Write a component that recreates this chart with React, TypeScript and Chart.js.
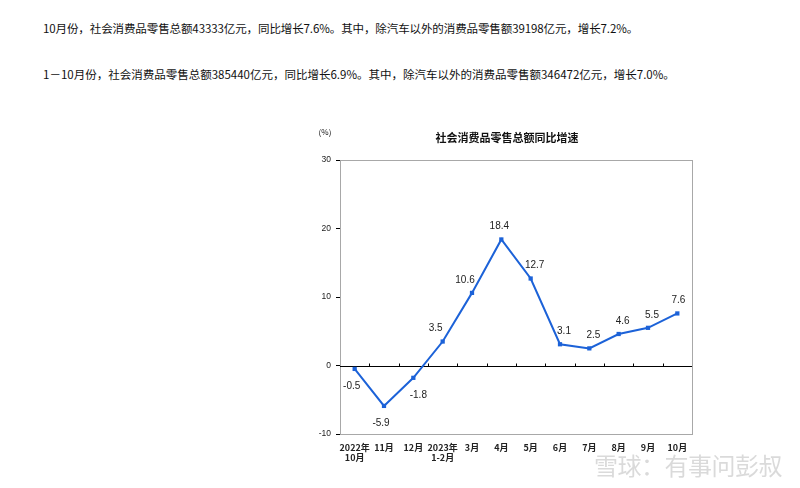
import React, { useEffect, useRef } from "react";
import { Chart, registerables } from "chart.js";
Chart.register(...registerables);

const paragraph1 = "10月份，社会消费品零售总额43333亿元，同比增长7.6%。其中，除汽车以外的消费品零售额39198亿元，增长7.2%。";
const paragraph2 = "1－10月份，社会消费品零售总额385440亿元，同比增长6.9%。其中，除汽车以外的消费品零售额346472亿元，增长7.0%。";
const chartTitle = "社会消费品零售总额同比增速";
const unitLabel = "(%)";
const watermark = "雪球：有事问彭叔";
const categories: string[][] = [
  ["2022年", "10月"],
  ["11月"],
  ["12月"],
  ["2023年", "1-2月"],
  ["3月"],
  ["4月"],
  ["5月"],
  ["6月"],
  ["7月"],
  ["8月"],
  ["9月"],
  ["10月"],
];
const growth = [-0.5, -5.9, -1.8, 3.5, 10.6, 18.4, 12.7, 3.1, 2.5, 4.6, 5.5, 7.6];
const yMin = -10;
const yMax = 30;
const yStep = 10;

const LINE = "#1c62d8";
const CJK = '"Noto Sans CJK SC", "Liberation Sans", sans-serif';
const NUM = '"Liberation Sans", Arial, sans-serif';

const framePlugin = {
  id: "frame",
  beforeDatasetsDraw(chart: any) {
    const { ctx, chartArea: a, scales } = chart;
    ctx.save();
    ctx.strokeStyle = "#a8a8a8";
    ctx.lineWidth = 1;
    ctx.strokeRect(a.left + 0.5, a.top + 0.5, a.right - a.left, a.bottom - a.top);
    const y0 = Math.round(scales.y.getPixelForValue(0)) + 0.5;
    ctx.strokeStyle = "#000";
    ctx.beginPath();
    ctx.moveTo(a.left, y0);
    ctx.lineTo(a.right, y0);
    const xs = scales.x;
    for (let i = 0; i < categories.length - 1; i++) {
      const bx = Math.round((xs.getPixelForValue(i) + xs.getPixelForValue(i + 1)) / 2) + 0.5;
      ctx.moveTo(bx, y0);
      ctx.lineTo(bx, y0 - 3);
    }
    ctx.stroke();
    ctx.restore();
  },
  afterDraw(chart: any) {
    const { ctx, chartArea: a } = chart;
    ctx.save();
    ctx.fillStyle = "#111";
    ctx.textAlign = "center";
    ctx.textBaseline = "middle";
    ctx.font = `bold 11px ${CJK}`;
    ctx.fillText(chartTitle, (a.left + a.right) / 2 - 9, a.top - 22);
    ctx.font = `8px ${CJK}`;
    ctx.fillText(unitLabel, a.left - 15, a.top - 28);
    ctx.restore();
  },
};

const labelPlugin = {
  id: "valueLabels",
  afterDatasetsDraw(chart: any) {
    const { ctx } = chart;
    const meta = chart.getDatasetMeta(0);
    ctx.save();
    ctx.fillStyle = "#222";
    ctx.font = `10px ${NUM}`;
    ctx.textAlign = "center";
    ctx.textBaseline = "middle";
    meta.data.forEach((pt: any, i: number) => {
      const v = growth[i];
      const prev = i > 0 ? growth[i - 1] : v;
      const next = i < growth.length - 1 ? growth[i + 1] : v;
      const slope = (next - prev) / 2;
      const isPeak = v > prev && v > next;
      let dx: number;
      let y: number;
      if (v >= 0) {
        y = pt.y - 13;
        dx = slope > 3 ? -7 : isPeak ? -2 : 4;
        if (i === growth.length - 1) dx = 1;
      } else {
        y = pt.y + 17;
        dx = slope > 3 ? 5 : -3;
      }
      ctx.fillText(v.toFixed(1), pt.x + dx, y);
    });
    ctx.restore();
  },
};

function LineChart() {
  const ref = useRef<HTMLCanvasElement | null>(null);
  useEffect(() => {
    if (!ref.current) return;
    const chart = new Chart(ref.current, {
      type: "line",
      data: {
        labels: categories as any,
        datasets: [
          {
            data: growth,
            borderColor: LINE,
            backgroundColor: LINE,
            borderWidth: 2,
            pointStyle: "rect",
            pointRadius: 3,
            pointBorderWidth: 0,
            tension: 0,
          },
        ],
      },
      options: {
        responsive: false,
        animation: false,
        events: [],
        layout: { padding: { left: 300, right: 108, top: 160, bottom: 24 } },
        plugins: { legend: { display: false }, tooltip: { enabled: false }, title: { display: false } },
        scales: {
          x: {
            offset: true,
            grid: { display: false, drawTicks: false },
            border: { display: false },
            ticks: {
              autoSkip: false,
              maxRotation: 0,
              padding: 8,
              color: "#222",
              font: { family: CJK, size: 9, weight: "bold", lineHeight: 1.15 },
            },
            afterFit(s: any) {
              s.height = 30;
            },
          },
          y: {
            min: yMin,
            max: yMax,
            ticks: {
              stepSize: yStep,
              padding: 5,
              color: "#222",
              font: { family: NUM, size: 8.5 },
            },
            grid: { drawOnChartArea: false, drawTicks: true, tickLength: 4, color: "#000" },
            border: { display: true, color: "#000", width: 1 },
            afterFit(s: any) {
              s.width = 40;
            },
          },
        },
      },
      plugins: [framePlugin, labelPlugin],
    });
    return () => chart.destroy();
  }, []);
  return <canvas ref={ref} width={800} height={488} style={{ position: "absolute", left: 0, top: 0, width: 800, height: 488 }} />;
}

export default function App() {
  const textStyle: React.CSSProperties = {
    position: "absolute",
    left: 43,
    fontFamily: CJK,
    fontSize: 11.5,
    color: "#111",
    whiteSpace: "nowrap",
    lineHeight: "16px",
  };
  return (
    <div style={{ position: "absolute", left: 0, top: 0, width: 800, height: 488, background: "#fff", overflow: "hidden" }}>
      <div style={{ ...textStyle, top: 20, letterSpacing: -0.1 }}>{paragraph1}</div>
      <div style={{ ...textStyle, top: 66 }}>{paragraph2}</div>
      <LineChart />
      <div
        style={{
          position: "absolute",
          left: 594,
          top: 450,
          fontFamily: CJK,
          fontSize: 24,
          lineHeight: "30px",
          color: "rgba(150,150,150,0.35)",
          whiteSpace: "nowrap",
          letterSpacing: -0.5,
        }}
      >
        {watermark}
      </div>
    </div>
  );
}
